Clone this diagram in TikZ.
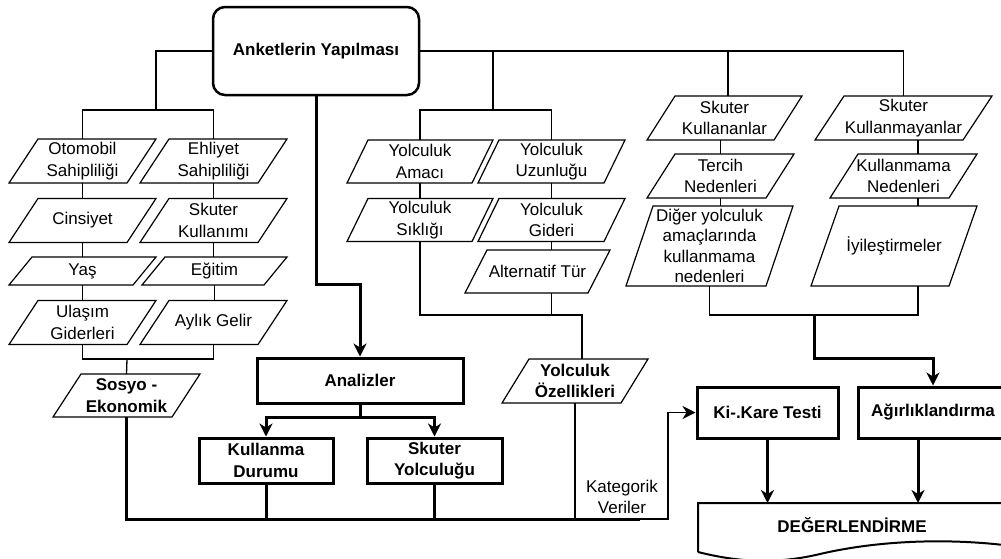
\documentclass[tikz,border=0pt]{standalone}
\usepackage{fontspec}
\setmainfont{Liberation Sans}
\usetikzlibrary{arrows.meta, positioning}
\newcommand{\dfont}{\fontsize{17}{21.5}\selectfont}
\tikzset{
  para/.style={inner sep=0pt, outer sep=0pt, minimum width=147pt, minimum height=44pt, align=center},
  pline/.style={line width=1.2pt, line join=miter},
  box/.style={draw, line width=3pt, inner sep=1pt, align=center, font=\dfont\bfseries},
  thn/.style={line width=1.3pt},
  thk/.style={line width=3pt}
}

\begin{document}
\begin{tikzpicture}[x=1pt, y=-1pt, font=\dfont, >={Stealth[length=13pt,width=13pt,inset=4pt]}]
\useasboundingbox (0,0) rectangle (1001,558);

\node (top) at (316,51)[draw, rounded corners=12pt, line width=2.5pt, minimum width=206pt, minimum height=88pt, font=\dfont\bfseries]{Anketlerin Yapılması};

\node (oto) at (82.5,161)[para]{Otomobil\\Sahipliliği};
\node (ehl) at (213.5,161)[para]{Ehliyet\\Sahipliliği};
\node (cin) at (82.5,220.5)[para]{Cinsiyet};
\node (sku) at (213.5,220.5)[para]{Skuter\\Kullanımı};
\node (yas) at (82.5,271)[para, minimum height=28pt]{Yaş};
\node (egi) at (214.5,271)[para, minimum height=28pt, minimum width=145pt]{Eğitim};
\node (ula) at (82.5,322.5)[para]{Ulaşım\\Giderleri};
\node (ayl) at (213.5,322.5)[para]{Aylık Gelir};
\node (sos) at (126.5,395.5)[para, minimum height=43pt, font=\dfont\bfseries]{Sosyo -\\Ekonomik};

\node (ama) at (420,161.5)[para, minimum width=146pt, minimum height=43pt]{Yolculuk\\Amacı};
\node (uzu) at (551.5,161.5)[para, minimum height=43pt]{Yolculuk\\Uzunluğu};
\node (sik) at (420,220)[para, minimum width=146pt, minimum height=43pt]{Yolculuk\\Sıklığı};
\node (gid) at (551.5,220)[para, minimum height=43pt]{Yolculuk\\Gideri};
\node (alt) at (537.5,271.5)[para, minimum width=145pt, minimum height=43pt]{Alternatif Tür};
\node (oz) at (575,381)[para, minimum width=146pt, font=\dfont\bfseries]{Yolculuk\\Özellikleri};

\node (kul) at (724.5,118)[para, minimum width=155pt]{Skuter\\Kullananlar};
\node (kma) at (903.5,118)[para, minimum width=177pt]{Skuter\\Kullanmayanlar};
\node (ter) at (720.5,176)[para]{Tercih\\Nedenleri};
\node (kne) at (903.5,176)[para]{Kullanmama\\Nedenleri};
\node (dig) at (709.5,246)[para, minimum width=167pt, minimum height=80pt, font=\fontsize{17}{20.5}\selectfont]{Diğer yolculuk\\amaçlarında\\kullanmama\\nedenleri};
\node (iyi) at (894,246)[para, minimum width=166pt, minimum height=80pt]{İyileştirmeler};

\foreach \n/\s in {oto/29, ehl/29, cin/29, sku/29, yas/23, egi/23, ula/29, ayl/29, sos/28,
                   ama/21, uzu/21, sik/21, gid/21, alt/22, oz/27,
                   kul/28, kma/29, ter/28, kne/28, dig/27, iyi/28}
{
    \draw[pline] (\n.south west) -- ([xshift=-\s pt]\n.south east) -- (\n.north east)
        -- ([xshift=\s pt]\n.north west) -- cycle;
}

\node (ana) at (360,380.5)[box, minimum width=206pt, minimum height=45pt]{Analizler};
\node (kd) at (266,460.5)[box, minimum width=134pt, minimum height=45pt]{Kullanma\\Durumu};
\node (sy) at (434.5,460.5)[box, minimum width=135pt, minimum height=45pt]{Skuter\\Yolculuğu};
\node (ki) at (767.5,412.5)[box, minimum width=141pt, minimum height=51pt]{Ki-.Kare Testi};
\node (agi) at (933,412.5)[box, minimum width=150pt, minimum height=51pt]{Ağırlıklandırma};
\node (kat) at (622,497)[align=center]{Kategorik\\Veriler};
\node (deg) at (852,525)[font=\dfont\bfseries]{DEĞERLENDİRME};

\coordinate (lbus) at (156,110);
\coordinate (mbus) at (493,110);
\coordinate (sbus) at (127,359);
\coordinate (kx) at (728,0);
\coordinate (rx) at (918,0);
\coordinate (yturn) at (582,315);
\coordinate (wbus) at (814,315);
\coordinate (wturn) at (933,358);
\coordinate (aturn) at (360,284);
\coordinate (abus) at (360,417);
\coordinate (bend) at (640,519);
\coordinate (kturn) at (668,519);
\coordinate (dtl) at (698,503);

\draw[thn] (top.west) -| (lbus);
\draw[thn] (oto.north) |- (lbus) -| (ehl.north);
\foreach \a/\b in {oto/cin, cin/yas, yas/ula, ehl/sku, sku/egi, egi/ayl, ama/sik, uzu/gid, gid/alt, ter/dig}
{
    \draw[thn] (\a.south) -- (\a.south |- \b.north);
}
\draw[thn] (ula.south) |- (sbus) -| (ayl.south);
\draw[thn] (sbus) -- (sos.north);

\draw[thn] (top.east) -| (kma.north);
\draw[thn] (top.east -| mbus) -- (mbus);
\draw[thn] (ama.north) |- (mbus) -| (uzu.north);
\draw[thn] (top.east -| kx) -- (kul.north -| kx);
\draw[thn] (ter.north |- kul.south) -- (ter.north);
\draw[thn] (kma.south -| rx) -- (kne.north -| rx);
\draw[thn] (kne.south -| rx) -- (iyi.north -| rx);

\draw[thn] (sik.south) |- (yturn) -- (yturn |- oz.north);
\draw[thn] (gid.south |- alt.south) -- (gid.south |- yturn);
\draw[thn] (dig.south) |- (wbus) -| (iyi.south -| rx);
\draw[thk,->] (wbus) |- (wturn) -- (agi.north);

\draw[thk,->] (top.south) |- (aturn) -- (ana.north);
\draw[thk] (ana.south) -- (abus);
\draw[thk,<->] (kd.north) |- (abus) -| (sy.north);
\draw[thk] (sos.south) |- (bend);
\draw[thk] (kd.south) -- (kd.south |- bend);
\draw[thk] (sy.south) -- (sy.south |- bend);
\draw[thn,->] (oz.south) |- (kturn) |- (ki.west);

\draw[thk,->] (ki.south) -- (ki.south |- dtl);
\draw[thk,->] (agi.south -| rx) -- (rx |- dtl);
\draw[line width=2pt] (698,552) -- (dtl) -- (1012,503) -- (1012,546)
    .. controls (950,538) and (880,540) .. (820,554)
    .. controls (770,566) and (730,560) .. (698,552);
\end{tikzpicture}
\end{document}
